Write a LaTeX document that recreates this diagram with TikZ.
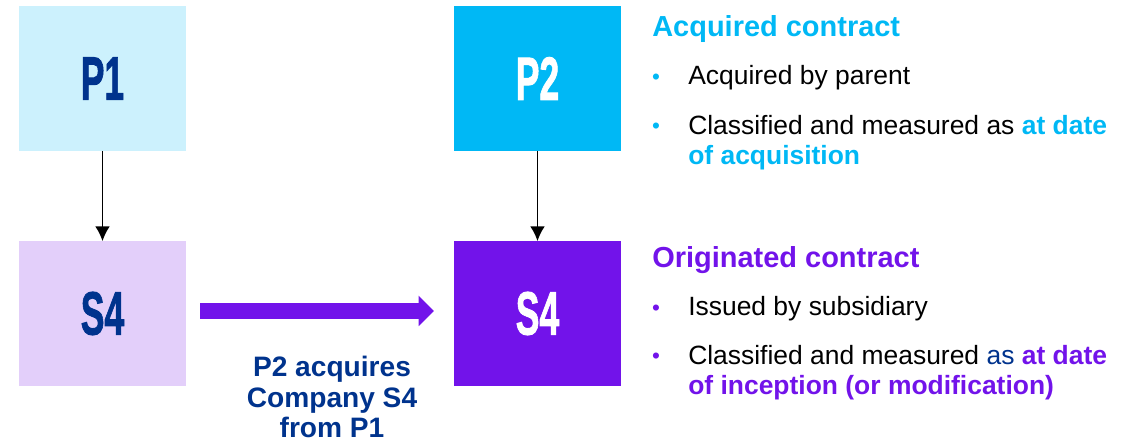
\documentclass[tikz,border=0pt]{standalone}
\usepackage{fontspec}
\setmainfont{Liberation Sans}
\newfontface\boxface[FakeBold=1.6]{Liberation Sans Bold}
\usepackage{graphicx}
\usetikzlibrary{arrows,arrows.meta}

\definecolor{kcyan}{HTML}{00B8F5}
\definecolor{kpurple}{HTML}{7213EA}
\definecolor{knavy}{HTML}{00338D}
\definecolor{klightcyan}{HTML}{CCF1FD}
\definecolor{klavender}{HTML}{E3CFFA}

\newcommand{\narrowlbl}[1]{\scalebox{0.58}[1]{#1}}

\begin{document}
\begin{tikzpicture}[
		x=0.025cm, y=-0.025cm,
		box/.style={minimum width=4.175cm, minimum height=3.6cm, inner sep=0pt,
			font=\boxface\fontsize{43.5}{43.5}\selectfont},
		head/.style={anchor=base west, inner sep=0pt, font=\fontsize{20.6}{24}\selectfont\bfseries},
		item/.style={anchor=base west, inner sep=0pt, align=left, font=\fontsize{18.8}{22}\selectfont},
		dot/.style={anchor=base, inner sep=0pt, font=\fontsize{16}{16}\selectfont},
		>={Latex[length=10.5pt,width=10.5pt]}]
	\useasboundingbox (0,0) rectangle (1133,445);
	%% define boxes
	\node (P1) at (102.5,78.5) [box, fill=klightcyan, text=knavy] {\narrowlbl{P1}};
	\node (S4a) at (102.5,313.5) [box, fill=klavender, text=knavy] {\narrowlbl{S4}};
	\node (P2) at (537.5,78.5) [box, fill=kcyan, text=white] {\narrowlbl{P2}};
	\node (S4b) at (537.5,313.5) [box, fill=kpurple, text=white] {\narrowlbl{S4}};
	%% define arrows
	\draw[->, line width=1.4pt] (P1) -- (S4a);
	\draw[->, line width=1.4pt] (P2) -- (S4b);
	\draw[kpurple, line width=10.9pt, -{Triangle[length=11pt 0 0, width=21pt 0 0]},
		shorten <=10pt, shorten >=14pt] ([yshift=1.8pt]S4a.east) -- ([yshift=1.8pt]S4b.west);
	%% last line sits on the base anchor
	\node (deal) at (332,438) [anchor=base, align=center, text=knavy,
		font=\fontsize{20}{22}\selectfont\bfseries] {P2 acquires\\Company S4\\from P1};
	%% acquired side
	\node (acqhead) at (652,36.5) [head, text=kcyan] {Acquired contract};
	\node (acqdot1) at (656,85) [dot, text=kcyan] {•};
	\node (acqtxt1) at (688,85) [item] {Acquired by parent};
	\node (acqdot2) at (656,134) [dot, text=kcyan] {•};
	\node (acqtxt2) at (688,165) [item] {Classified and measured as {\bfseries\color{kcyan}at date}\\
		{\bfseries\color{kcyan}of acquisition}};
	%% originated side
	\node (orighead) at (652,268) [head, text=kpurple] {Originated contract};
	\node (origdot1) at (656,316) [dot, text=kpurple] {•};
	\node (origtxt1) at (688,316) [item] {Issued by subsidiary};
	\node (origdot2) at (656,364) [dot, text=kpurple] {•};
	\node (origtxt2) at (688,395) [item] {Classified and measured {\color{knavy}as} {\bfseries\color{kpurple}at date}\\
		{\bfseries\color{kpurple}of inception (or modification)}};
\end{tikzpicture}
\end{document}
